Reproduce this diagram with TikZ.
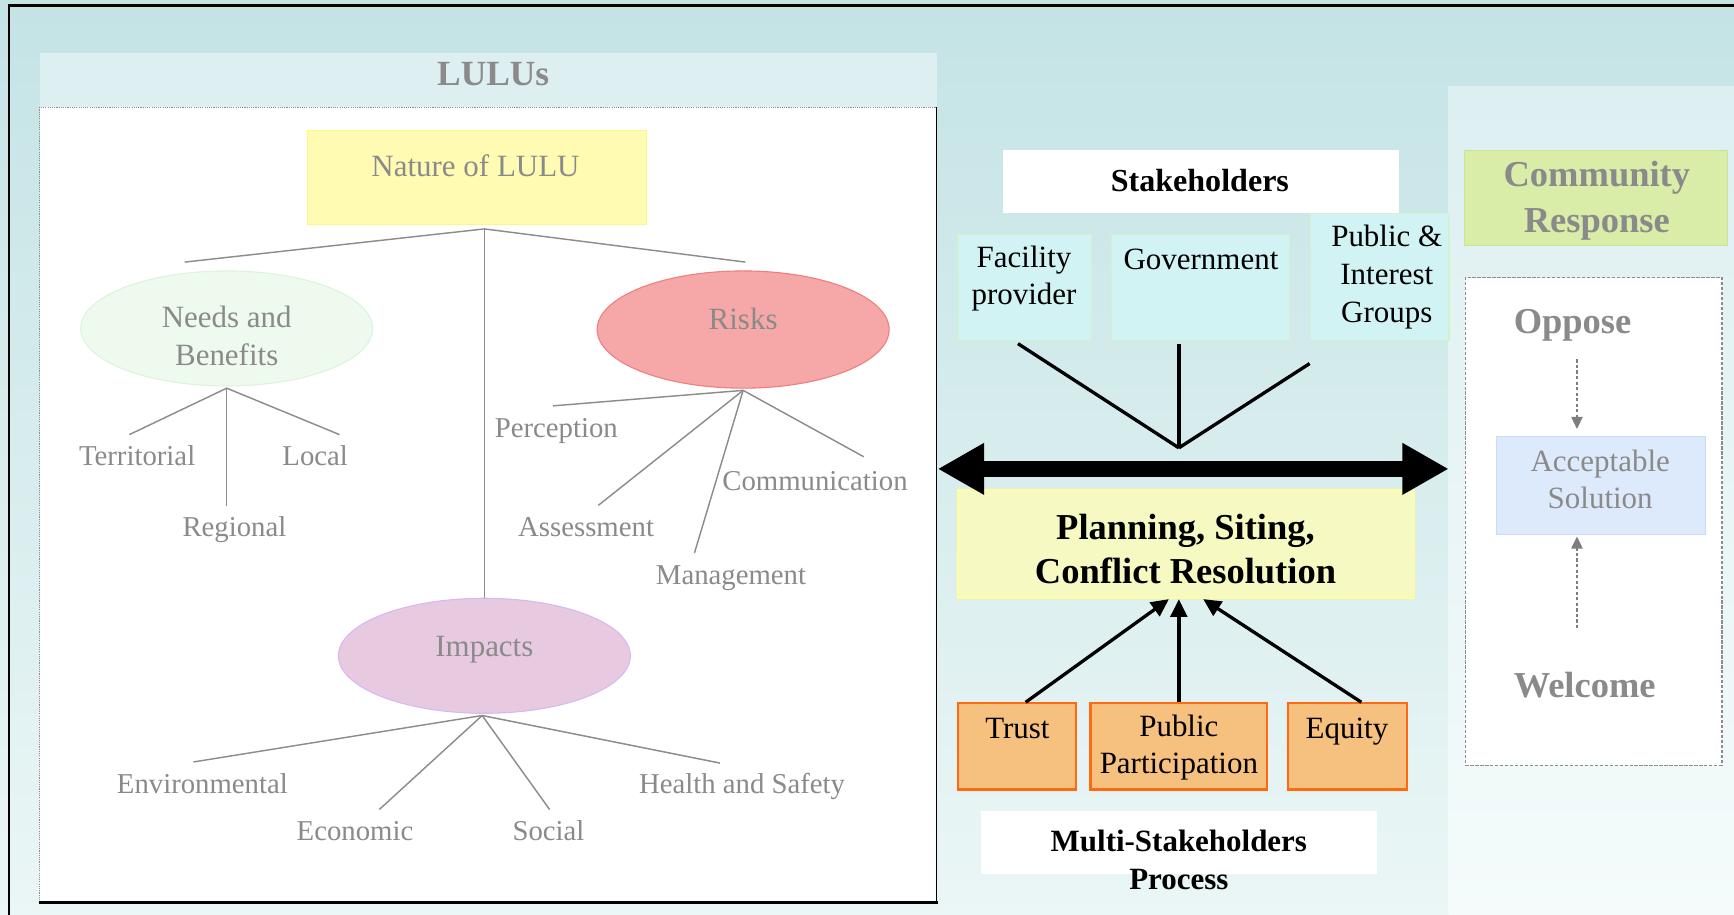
\documentclass[tikz,border=0pt]{standalone}
\usepackage{fontspec}
\setmainfont{Liberation Serif}
\usetikzlibrary{arrows.meta,shapes.geometric,calc}
\definecolor{bgtop}{HTML}{C4E3E5}
\definecolor{bgbot}{HTML}{EBF6F6}
\definecolor{bandtop}{HTML}{DDEFF1}
\definecolor{bandbot}{HTML}{F5FBFB}
\definecolor{lulubg}{HTML}{DDEFF1}
\definecolor{txtgray}{HTML}{8A8A8A}
\definecolor{linegray}{HTML}{8C8C8C}
\definecolor{natfill}{HTML}{FFFBB2}
\definecolor{natdraw}{HTML}{FFF680}
\definecolor{needfill}{HTML}{EEFAEE}
\definecolor{needdraw}{HTML}{DDF3DD}
\definecolor{riskfill}{HTML}{F6A8A8}
\definecolor{riskdraw}{HTML}{F07E7E}
\definecolor{impfill}{HTML}{E8CAE0}
\definecolor{impdraw}{HTML}{D8B8F2}
\definecolor{stkfill}{HTML}{D2F3F3}
\definecolor{stkdraw}{HTML}{CFF3CF}
\definecolor{planfill}{HTML}{F6FAC2}
\definecolor{plandraw}{HTML}{FFFF99}
\definecolor{orfill}{HTML}{F6C07E}
\definecolor{ordraw}{HTML}{FF6A10}
\definecolor{comfill}{HTML}{D9ECA8}
\definecolor{comdraw}{HTML}{C8E690}
\definecolor{accfill}{HTML}{DDEAFB}
\definecolor{accdraw}{HTML}{C6DCFB}
\tikzset{
  lbl/.style={inner sep=0pt, text=txtgray, font=\fontsize{26}{31}\selectfont, align=center, execute at begin node=\strut},
  gtxt/.style={inner sep=0pt, text=txtgray, font=\fontsize{28}{34}\selectfont, align=center, execute at begin node=\strut},
  gbold/.style={inner sep=0pt, text=txtgray, font=\bfseries\fontsize{33}{42}\selectfont, align=center, execute at begin node=\strut},
  btxt/.style={inner sep=0pt, text=black, font=\fontsize{28}{34}\selectfont, align=center, execute at begin node=\strut},
  bbold/.style={inner sep=0pt, text=black, font=\bfseries\fontsize{29}{34}\selectfont, align=center, execute at begin node=\strut},
  rbox/.style={rectangle, inner sep=0pt},
  ell/.style={ellipse, inner sep=0pt, minimum width=264pt, line width=1pt},
  tline/.style={draw=linegray, line width=1.3pt},
  sline/.style={draw=black, line width=3pt},
  uparr/.style={draw=black, line width=3pt, -{Triangle[length=16pt,width=15pt]}},
  darr/.style={draw=linegray!90!black, line width=2pt, dash pattern=on 3pt off 2pt, -{Triangle[length=11pt,width=10pt]}},
}
\begin{document}
\begin{tikzpicture}[x=1pt,y=-1pt]
\useasboundingbox (0,0) rectangle (1568,827);
% background
\shade[top color=bgtop, bottom color=bgbot] (0,0) rectangle (1568,827);
\draw[line width=2pt] (8,827) -- (8,5) -- (1568,5);
% right band
\shade[top color=bandtop, bottom color=bandbot] (1310,78) rectangle (1568,827);
% left panel
\fill[lulubg] (36,48) rectangle (847,97);
\fill[white] (36,97) rectangle (847,816);
\draw[linegray, line width=1pt, densely dotted] (36,816) -- (36,97) -- (847,97);
\draw[black, line width=1.2pt] (847,97) -- (847,817);
\draw[black, line width=2.5pt] (35,816) -- (848,816);
\node[inner sep=0pt, text=txtgray, font=\bfseries\fontsize{32}{38}\selectfont, execute at begin node=\strut] (lulus) at (446,70) {LULUs};

% nature of LULU
\node[rbox, fill=natfill, draw=natdraw, line width=1pt, minimum width=307pt, minimum height=85pt] (nature) at (431.5,160.5) {};
\node[gtxt] (tnature) at (430,152.5) {Nature of LULU};

% ellipses
\node[ell, fill=needfill, draw=needdraw, minimum height=104pt] (needs) at (205,297) {};
\node[gtxt] (tneeds) at (205,308.5) {Needs and\\\strut Benefits};
\node[ell, fill=riskfill, draw=riskdraw, minimum height=106pt] (risks) at (672,298) {};
\node[gtxt] (trisks) at (672,291.5) {Risks};
\node[ell, fill=impfill, draw=impdraw, minimum height=104pt] (impacts) at (438,593) {};
\node[gtxt] (timpacts) at (438,586.5) {Impacts};

% tree coordinates
\coordinate (r0) at (438,207);
\coordinate (n0) at (205,351);
\coordinate (k0) at (672,353);
\coordinate (i0) at (436,647);
\coordinate (e1) at (167,237);
\coordinate (e2) at (674,237);
\coordinate (e3) at (438,541);
\coordinate (n1) at (117,393);
\coordinate (n2) at (307,393);
\coordinate (n3) at (205,458);
\coordinate (k1) at (500,367);
\coordinate (k2) at (541,457);
\coordinate (k3) at (628,500);
\coordinate (k4) at (781,413);
\coordinate (i1) at (175,689);
\coordinate (i2) at (343,732);
\coordinate (i3) at (497,732);
\coordinate (i4) at (651,690);
\draw[tline] (e1) -- (r0) -- (e2);
\draw[tline] (r0) -- (e3);
\draw[tline] (n1) -- (n0) -- (n2);
\draw[tline] (n0) -- (n3);
\draw[tline] (k1) -- (k0) -- (k4);
\draw[tline] (k0) -- (k2);
\draw[tline] (k0) -- (k3);
\draw[tline] (i1) -- (i0) -- (i4);
\draw[tline] (i0) -- (i2);
\draw[tline] (i0) -- (i3);

% tree labels
\node[lbl] (terr) at (124,415) {Territorial};
\node[lbl] (local) at (285,415) {Local};
\node[lbl] (regional) at (212,479) {Regional};
\node[lbl] (perc) at (503,389) {Perception};
\node[lbl] (comm) at (737,437) {Communication};
\node[lbl] (assess) at (530,479) {Assessment};
\node[lbl] (manage) at (661,522) {Management};
\node[lbl] (env) at (183,711) {Environmental};
\node[lbl] (econ) at (321,754) {Economic};
\node[lbl] (social) at (496,754) {Social};
\node[lbl] (health) at (671,711) {Health and Safety};

% stakeholders
\node[rbox, fill=white, minimum width=358pt, minimum height=57pt] (stk) at (1086,164.5) {};
\node[bbold] (tstk) at (1085,166) {Stakeholders};
\node[rbox, fill=stkfill, draw=stkdraw, line width=1.5pt, minimum width=121pt, minimum height=96pt] (fac) at (926.5,260) {};
\node[btxt] (tfac) at (926,254) {Facility\\\strut provider};
\node[rbox, fill=stkfill, draw=stkdraw, line width=1.5pt, minimum width=161pt, minimum height=96pt] (gov) at (1085.5,260) {};
\node[btxt] (tgov) at (1086,237) {Government};
\node[rbox, fill=stkfill, draw=stkdraw, line width=1.5pt, minimum width=125pt, minimum height=115pt] (pub) at (1247.5,250.5) {};
\node[btxt, font=\fontsize{28}{34.5}\selectfont] (tpub) at (1254,253) {Public \&\\\strut Interest\\\strut Groups};

\coordinate (meet) at (1066,405);
\coordinate (sfac) at ($(fac.south)+(-6,2)$);
\coordinate (sgov) at ($(gov.south)+(-19.5,2)$);
\coordinate (spub) at ($(pub.south west)+(0,20)$);
\draw[sline] (sfac) -- (meet);
\draw[sline] (sgov) -- (meet);
\draw[sline] (spub) -- (meet);

% planning box and double arrow
\node[rbox, fill=planfill, draw=plandraw, line width=1.5pt, minimum width=413pt, minimum height=98pt] (plan) at (1072.5,492) {};
\node[bbold, font=\bfseries\fontsize{33}{40}\selectfont] (tplan) at (1072,502.5) {Planning, Siting,\\\strut Conflict Resolution};
\coordinate (aleft) at (848,424);
\coordinate (aright) at (1310,424);
\draw[black, line width=15pt, {Triangle[length=42pt,width=44pt]}-{Triangle[length=42pt,width=44pt]}] (aleft) -- (aright);

% factors
\node[rbox, fill=orfill, draw=ordraw, line width=2pt, minimum width=107pt, minimum height=78pt] (trust) at (919.5,675) {};
\node[btxt] (ttrust) at (920,661) {Trust};
\node[rbox, fill=orfill, draw=ordraw, line width=2pt, minimum width=160pt, minimum height=78pt] (pp) at (1066,675) {};
\node[btxt] (tpp) at (1066,678) {Public\\\strut Participation};
\node[rbox, fill=orfill, draw=ordraw, line width=2pt, minimum width=107pt, minimum height=78pt] (eq) at (1218.5,675) {};
\node[btxt] (teq) at (1218,661) {Equity};
\draw[uparr] ($(trust.north)+(8,0)$) -- ($(plan.south)+(-15.5,0)$);
\draw[uparr] (pp.north) -- ($(plan.south)+(-6.5,0)$);
\draw[uparr] ($(eq.north)+(12.5,0)$) -- ($(plan.south)+(15.5,0)$);

\node[rbox, fill=white, minimum width=358pt, minimum height=57pt] (multi) at (1066,761.5) {};
\node[bbold, font=\bfseries\fontsize{28}{34}\selectfont] (tmulti) at (1066,782.5) {Multi-Stakeholders\\\strut Process};

% community response
\node[rbox, fill=comfill, draw=comdraw, line width=1pt, minimum width=238pt, minimum height=86pt] (comr) at (1443,179) {};
\node[gbold] (tcomr) at (1444,184.5) {Community\\\strut Response};
\node[rbox, fill=white, draw=linegray, line width=1.2pt, dash pattern=on 3pt off 1.5pt, minimum width=232pt, minimum height=441pt] (wbox) at (1441,471.5) {};
\node[gbold] (oppose) at (1422,293.5) {Oppose};
\node[rbox, fill=accfill, draw=accdraw, line width=1pt, minimum width=189pt, minimum height=88pt] (acc) at (1447.5,439) {};
\node[gtxt] (tacc) at (1447,438.5) {Acceptable\\\strut Solution};
\node[gbold] (welcome) at (1433,622.5) {Welcome};
\coordinate (d1) at (1426,325);
\coordinate (d2) at (1426,388);
\coordinate (u1) at (1426,568);
\coordinate (u2) at (1426,485);
\draw[darr] (d1) -- (d2);
\draw[darr] (u1) -- (u2);
\end{tikzpicture}
\end{document}
